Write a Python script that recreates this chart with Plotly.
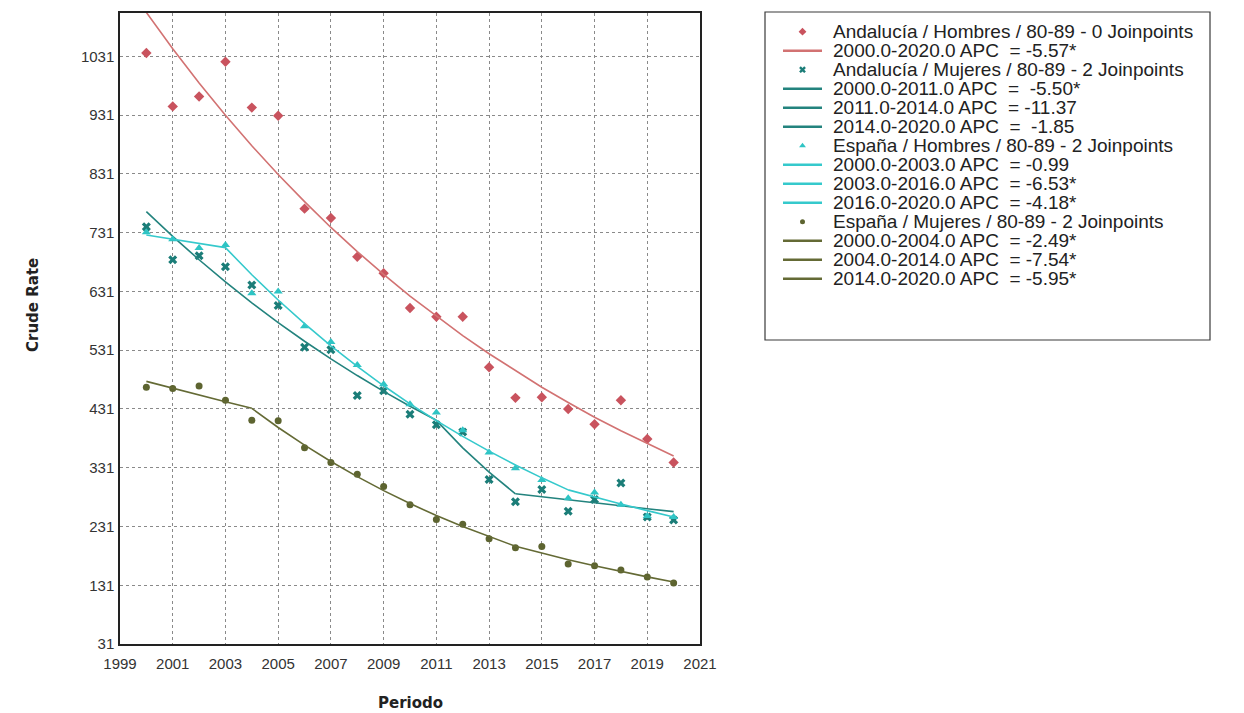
import plotly.graph_objects as go

W, H = 1244, 713

years = list(range(2000, 2021))

# Observed crude rates (per 100,000), age group 80-89
and_h_obs = [1037, 946, 963, 1022, 944, 930, 772, 756, 690, 662, 603,
             588, 588, 502, 450, 451, 431, 405, 446, 380, 340]
and_m_obs = [741, 685, 692, 673, 642, 607, 536, 532, 454, 462, 422,
             404, 392, 311, 273, 294, 257, 277, 305, 247, 242]
esp_h_obs = [732, 720, 705, 710, 628, 631, 572, 545, 506, 473, 439,
             425, 395, 357, 330, 310, 279, 289, 268, 249, 247]
esp_m_obs = [468, 466, 470, 446, 412, 411, 365, 340, 320, 299, 268,
             243, 235, 210, 195, 197, 167, 164, 157, 145, 135]

# Joinpoint fitted values
and_h_fit = [1106, 1044, 986, 931, 879, 830, 784, 740, 699, 660, 623,
             589, 556, 525, 496, 468, 442, 417, 394, 372, 351]
and_m_fit = [767, 724.8, 685.0, 647.3, 611.7, 578.1, 546.3, 516.3, 487.9, 461.0, 435.7,
             411.7, 364.9, 323.4, 286.6, 281.3, 276.1, 271.0, 266.0, 261.1, 256.3]
esp_h_fit = [727, 719.8, 712.7, 705.6, 659.5, 616.5, 576.2, 538.6, 503.4, 470.5, 439.8,
             411.1, 384.3, 359.2, 335.7, 313.8, 293.3, 281.0, 269.3, 258.0, 247.2]
esp_m_fit = [478, 466.1, 454.5, 443.2, 432.1, 399.5, 369.4, 341.6, 315.8, 292.0, 270.0,
             249.6, 230.8, 213.4, 197.3, 185.6, 174.5, 164.1, 154.4, 145.2, 136.5]

NB = "\u00a0"
series = [
    dict(name="Andalucía / Hombres / 80-89 - 0 Joinpoints", obs=and_h_obs, fit=and_h_fit,
         segments=[(2000, 2020, f"2000.0-2020.0 APC{NB}{NB}= -5.57*")],
         mcolor="#c9535e", lcolor="#d27272", symbol="diamond", msize=8),
    dict(name="Andalucía / Mujeres / 80-89 - 2 Joinpoints", obs=and_m_obs, fit=and_m_fit,
         segments=[(2000, 2011, f"2000.0-2011.0 APC{NB}{NB}={NB}{NB}-5.50*"),
                   (2011, 2014, f"2011.0-2014.0 APC{NB}{NB}= -11.37"),
                   (2014, 2020, f"2014.0-2020.0 APC{NB}{NB}={NB}{NB}-1.85")],
         mcolor="#1b7d78", lcolor="#23837e", symbol="x", msize=8),
    dict(name="España / Hombres / 80-89 - 2 Joinpoints", obs=esp_h_obs, fit=esp_h_fit,
         segments=[(2000, 2003, f"2000.0-2003.0 APC{NB}{NB}= -0.99"),
                   (2003, 2016, f"2003.0-2016.0 APC{NB}{NB}= -6.53*"),
                   (2016, 2020, f"2016.0-2020.0 APC{NB}{NB}= -4.18*")],
         mcolor="#2ec4c4", lcolor="#35c9cc", symbol="triangle-up", msize=8),
    dict(name="España / Mujeres / 80-89 - 2 Joinpoints", obs=esp_m_obs, fit=esp_m_fit,
         segments=[(2000, 2004, f"2000.0-2004.0 APC{NB}{NB}= -2.49*"),
                   (2004, 2014, f"2004.0-2014.0 APC{NB}{NB}= -7.54*"),
                   (2014, 2020, f"2014.0-2020.0 APC{NB}{NB}= -5.95*")],
         mcolor="#5d6430", lcolor="#646a35", symbol="circle", msize=7),
]

# Plot area in pixels (left, right, top, bottom)
PL, PR, PT, PB = 120, 700, 13, 644

fig = go.Figure()
for s in series:
    fig.add_trace(go.Scatter(
        x=years, y=s["obs"], mode="markers", name=s["name"], showlegend=False,
        marker=dict(symbol=s["symbol"], size=s["msize"], color=s["mcolor"],
                    line=dict(width=0)),
    ))
    for a, b, label in s["segments"]:
        i0, i1 = years.index(a), years.index(b)
        fig.add_trace(go.Scatter(
            x=years[i0:i1 + 1], y=s["fit"][i0:i1 + 1], mode="lines", name=label,
            showlegend=False, line=dict(color=s["lcolor"], width=1.6),
        ))

# Legend panel drawn on a pixel-unit axis pair (x2/y2) spanning the whole figure
LG_L, LG_R, LG_T, LG_B = 765, 1210, 12, 340
ROW0, ROW_STEP = 31.7, 19.0
SYM_X0, SYM_X1, TXT_X = 783, 822, 831
legend_font = dict(family="Liberation Sans, Arial", size=19, color="#222")
row = 0
for s in series:
    yy = ROW0 + ROW_STEP * row
    fig.add_trace(go.Scatter(
        x=[(SYM_X0 + SYM_X1) / 2], y=[yy], xaxis="x2", yaxis="y2", mode="markers",
        showlegend=False, hoverinfo="skip",
        marker=dict(symbol=s["symbol"], size=s["msize"] - 2, color=s["mcolor"]),
    ))
    fig.add_annotation(x=TXT_X, y=yy, xref="x2", yref="y2", text=s["name"],
                       showarrow=False, xanchor="left", yanchor="middle", font=legend_font)
    row += 1
    for _, _, label in s["segments"]:
        yy = ROW0 + ROW_STEP * row
        fig.add_trace(go.Scatter(
            x=[SYM_X0, SYM_X1], y=[yy, yy], xaxis="x2", yaxis="y2", mode="lines",
            showlegend=False, hoverinfo="skip",
            line=dict(color=s["lcolor"], width=2.4),
        ))
        fig.add_annotation(x=TXT_X, y=yy, xref="x2", yref="y2", text=label,
                           showarrow=False, xanchor="left", yanchor="middle", font=legend_font)
        row += 1

fig.add_shape(type="rect", xref="x2", yref="y2", x0=LG_L, x1=LG_R, y0=LG_T, y1=LG_B,
              line=dict(color="#3a3a3a", width=1.2), fillcolor="rgba(0,0,0,0)")

grid = dict(showgrid=True, gridcolor="#8a8a8a", griddash="dot", gridwidth=1)
tickfont = dict(family="Liberation Sans, Arial", size=15, color="#333")
fig.update_layout(
    xaxis=dict(domain=[PL / W, PR / W], range=[1999, 2021], tickmode="array",
               tickvals=list(range(1999, 2022, 2)), ticks="", ticklabelstandoff=5,
               showline=True, linecolor="#222", linewidth=1.5, mirror=True,
               tickfont=tickfont, zeroline=False, anchor="y", automargin=False, **grid),
    yaxis=dict(domain=[(H - PB) / H, (H - PT) / H], range=[31, 1105], tickmode="array",
               tickvals=list(range(31, 1032, 100)), ticks="", ticklabelstandoff=1,
               showline=True, linecolor="#222", linewidth=1.5, mirror=True,
               tickfont=tickfont, zeroline=False, anchor="x", automargin=False, **grid),
    xaxis2=dict(domain=[0, 1], range=[0, W], visible=False, anchor="y2",
                fixedrange=True, showgrid=False, zeroline=False, automargin=False),
    yaxis2=dict(domain=[0, 1], range=[H, 0], visible=False, anchor="x2",
                fixedrange=True, showgrid=False, zeroline=False, automargin=False),
    width=W, height=H,
    margin=dict(l=0, r=0, t=0, b=0, pad=0, autoexpand=False),
    paper_bgcolor="white", plot_bgcolor="rgba(0,0,0,0)",
    showlegend=False,
)

# Axis titles
fig.add_annotation(text="<b>Periodo</b>", xref="x2", yref="y2", x=(PL + PR) / 2, y=703,
                   showarrow=False, xanchor="center", yanchor="middle",
                   font=dict(family="DejaVu Sans", size=15, color="#222"))
fig.add_annotation(text="<b>Crude Rate</b>", xref="x2", yref="y2", x=33, y=305,
                   showarrow=False, textangle=-90, xanchor="center", yanchor="middle",
                   font=dict(family="DejaVu Sans", size=15, color="#222"))

fig.write_html("out.html")
